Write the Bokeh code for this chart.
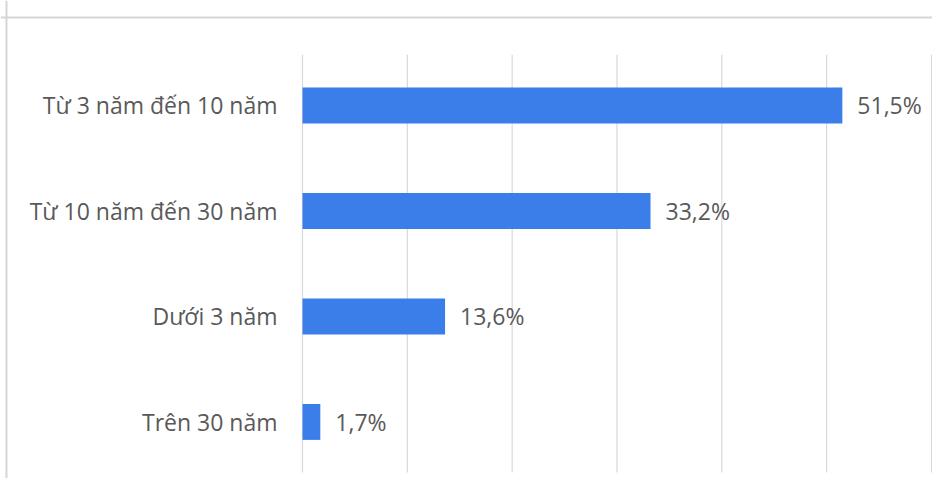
from bokeh.plotting import figure
from bokeh.models import ColumnDataSource, Range1d, Span
from bokeh.core.properties import value
from bokeh.embed import file_html
from bokeh.resources import INLINE

categories = ["Từ 3 năm đến 10 năm", "Từ 10 năm đến 30 năm", "Dưới 3 năm", "Trên 30 năm"]
values = [51.5, 33.2, 13.6, 1.7]
value_labels = ["51,5%", "33,2%", "13,6%", "1,7%"]
grid_ticks = [0, 10, 20, 30, 40, 50, 60]

pos = list(range(len(categories)))

src = ColumnDataSource(dict(
    y=pos, v=values, cat=categories, lab=value_labels,
    zero=[0] * len(pos),
))
grid_src = ColumnDataSource(dict(
    x=grid_ticks, y0=[-0.48] * len(grid_ticks), y1=[3.48] * len(grid_ticks),
))

p = figure(width=932, height=478, output_backend="svg", toolbar_location=None,
           x_range=Range1d(-28.81, 60.10), y_range=Range1d(3.536, -0.995),
           x_axis_location=None, y_axis_location=None,
           min_border=0, min_border_left=0, min_border_right=0,
           min_border_top=0, min_border_bottom=0)
p.outline_line_color = None
p.xgrid.visible = False
p.ygrid.visible = False
p.background_fill_color = "white"
p.border_fill_color = "white"

# gridlines
p.segment(x0="x", x1="x", y0="y0", y1="y1", source=grid_src,
          line_color="#d9d9d9", line_width=1.2)

# bars
p.hbar(y="y", left="zero", right="v", height=0.34, source=src,
       fill_color="#3b7eea", line_color=None)

# category labels
p.text(x="zero", y="y", text="cat", source=src, x_offset=-25,
       text_align="right", text_baseline="middle",
       text_font=value("Open Sans"), text_font_size="23px", text_color="#595959")

# value labels
p.text(x="v", y="y", text="lab", source=src, x_offset=15,
       text_align="left", text_baseline="middle",
       text_font=value("Open Sans"), text_font_size="23px", text_color="#595959")

# outer chart border (top and left edges visible)
p.add_layout(Span(location=-0.834, dimension="width", line_color="#d6d6d6", line_width=2))
p.add_layout(Span(location=-28.24, dimension="height", line_color="#d6d6d6", line_width=2))

open("out.html", "w").write(file_html(p, INLINE))
